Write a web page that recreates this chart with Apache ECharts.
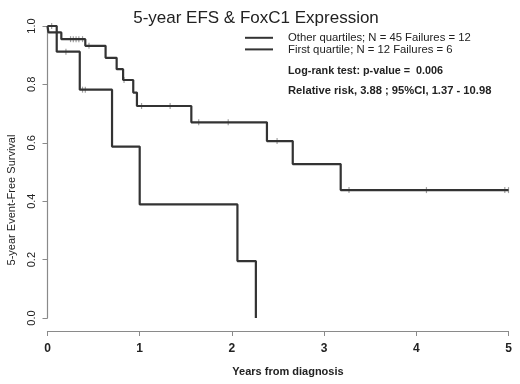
<!DOCTYPE html>
<html>
<head>
<meta charset="utf-8">
<script src="https://cdn.jsdelivr.net/npm/echarts@6/dist/echarts.min.js"></script>
<style>
  html, body { margin: 0; padding: 0; background: #fff; }
  #chart { width: 520px; height: 384px; }
</style>
</head>
<body>
<div id="chart"></div>
<script>
// Kaplan-Meier steps
var otherTime = [0, 0.01, 0.15, 0.41, 0.63, 0.75, 0.82, 0.93, 0.97, 1.56, 2.38, 2.66, 3.18, 5.0];
var otherSurv = [1.0, 0.978, 0.955, 0.932, 0.891, 0.852, 0.815, 0.772, 0.726, 0.670, 0.606, 0.527, 0.438, 0.438];
var firstTime = [0, 0.10, 0.35, 0.70, 1.00, 2.06, 2.26];
var firstSurv = [1.0, 0.912, 0.782, 0.587, 0.389, 0.195, 0.0];

// censor marks
var otherCensorTime = [0.25, 0.28, 0.31, 0.34, 0.38, 0.45, 0.83, 1.02, 1.33, 1.64, 1.96, 2.49, 3.27, 4.11, 4.96, 5.0];
var otherCensorSurv = [0.955, 0.955, 0.955, 0.955, 0.955, 0.932, 0.815, 0.726, 0.726, 0.670, 0.670, 0.606, 0.438, 0.438, 0.438, 0.438];
var firstCensorTime = [0.045, 0.20, 0.38, 0.41];
var firstCensorSurv = [1.0, 0.912, 0.782, 0.782];

var xTicks = [0, 1, 2, 3, 4, 5];
var yTicks = [0, 0.2, 0.4, 0.6, 0.8, 1.0];
var legendNames = ['Other quartiles; N = 45 Failures = 12', 'First quartile; N = 12 Failures = 6'];

function zip(a, b) {
    return a.map(function (v, i) { return [v, b[i]]; });
}

var font = 'Liberation Sans, Arial, sans-serif';
var lineColor = '#333';
var axisColor = '#8a8a8a';

var myChart = echarts.init(document.getElementById('chart'));
var option = {
    animation: false,
    backgroundColor: '#fff',
    title: {
        text: '5-year EFS & FoxC1 Expression',
        left: 251,
        textAlign: 'center',
        top: 5,
        textStyle: { fontFamily: font, fontSize: 17, fontWeight: 'normal', color: '#222' }
    },
    legend: {
        data: legendNames,
        orient: 'vertical',
        left: 245,
        top: 32,
        padding: 0,
        itemGap: 0,
        itemWidth: 28,
        itemHeight: 2,
        icon: 'rect',
        textStyle: { fontFamily: font, fontSize: 11.3, color: '#222', padding: [0, 0, 0, 10], lineHeight: 11.6 }
    },
    grid: { left: 47.5, right: 11.5, top: 26, bottom: 66 },
    xAxis: {
        type: 'value',
        min: 0,
        max: 5,
        interval: 1,
        offset: 13,
        axisLine: { onZero: false, lineStyle: { color: axisColor, width: 1.2 } },
        axisTick: { length: 5, lineStyle: { color: axisColor } },
        axisLabel: {
            margin: 12,
            fontFamily: font, fontSize: 12, fontWeight: 'bold', color: '#222',
            formatter: function (v) { return xTicks.indexOf(v) >= 0 ? String(v) : ''; }
        },
        splitLine: { show: false }
    },
    yAxis: {
        type: 'value',
        min: 0,
        max: 1,
        interval: 0.2,
        axisLine: { show: true, lineStyle: { color: axisColor, width: 1.2 } },
        axisTick: { show: true, length: 5, lineStyle: { color: axisColor } },
        axisLabel: {
            rotate: 90,
            margin: 10,
            fontFamily: font, fontSize: 11, color: '#222',
            formatter: function (v) { return v.toFixed(1); }
        },
        splitLine: { show: false }
    },
    graphic: [
        {
            type: 'text', left: 288, top: 66,
            style: { text: 'Log-rank test: p-value =  0.006', font: 'bold 10.8px ' + font, fill: '#222' }
        },
        {
            type: 'text', left: 288, top: 85,
            style: { text: 'Relative risk, 3.88 ; 95%CI, 1.37 - 10.98', font: 'bold 11.2px ' + font, fill: '#222' }
        },
        {
            type: 'text', x: 288, y: 372,
            style: { text: 'Years from diagnosis', font: 'bold 11px ' + font, fill: '#222', align: 'center', verticalAlign: 'middle' }
        },
        {
            type: 'text', x: 12, y: 200, rotation: Math.PI / 2,
            style: { text: '5-year Event-Free Survival', font: '11px ' + font, fill: '#222', align: 'center', verticalAlign: 'middle' }
        }
    ],
    series: [
        {
            name: legendNames[0],
            type: 'line',
            step: 'end',
            showSymbol: false,
            color: lineColor,
            lineStyle: { width: 2.2, color: lineColor },
            data: zip(otherTime, otherSurv)
        },
        {
            name: legendNames[1],
            type: 'line',
            step: 'end',
            showSymbol: false,
            color: lineColor,
            lineStyle: { width: 2.2, color: lineColor },
            data: zip(firstTime, firstSurv)
        },
        {
            name: 'censor-other',
            type: 'scatter',
            symbol: 'rect',
            symbolSize: [1.2, 6],
            itemStyle: { color: '#888' },
            data: zip(otherCensorTime, otherCensorSurv)
        },
        {
            name: 'censor-first',
            type: 'scatter',
            symbol: 'rect',
            symbolSize: [1.2, 6],
            itemStyle: { color: '#888' },
            data: zip(firstCensorTime, firstCensorSurv)
        }
    ]
};
myChart.setOption(option);
</script>
</body>
</html>
